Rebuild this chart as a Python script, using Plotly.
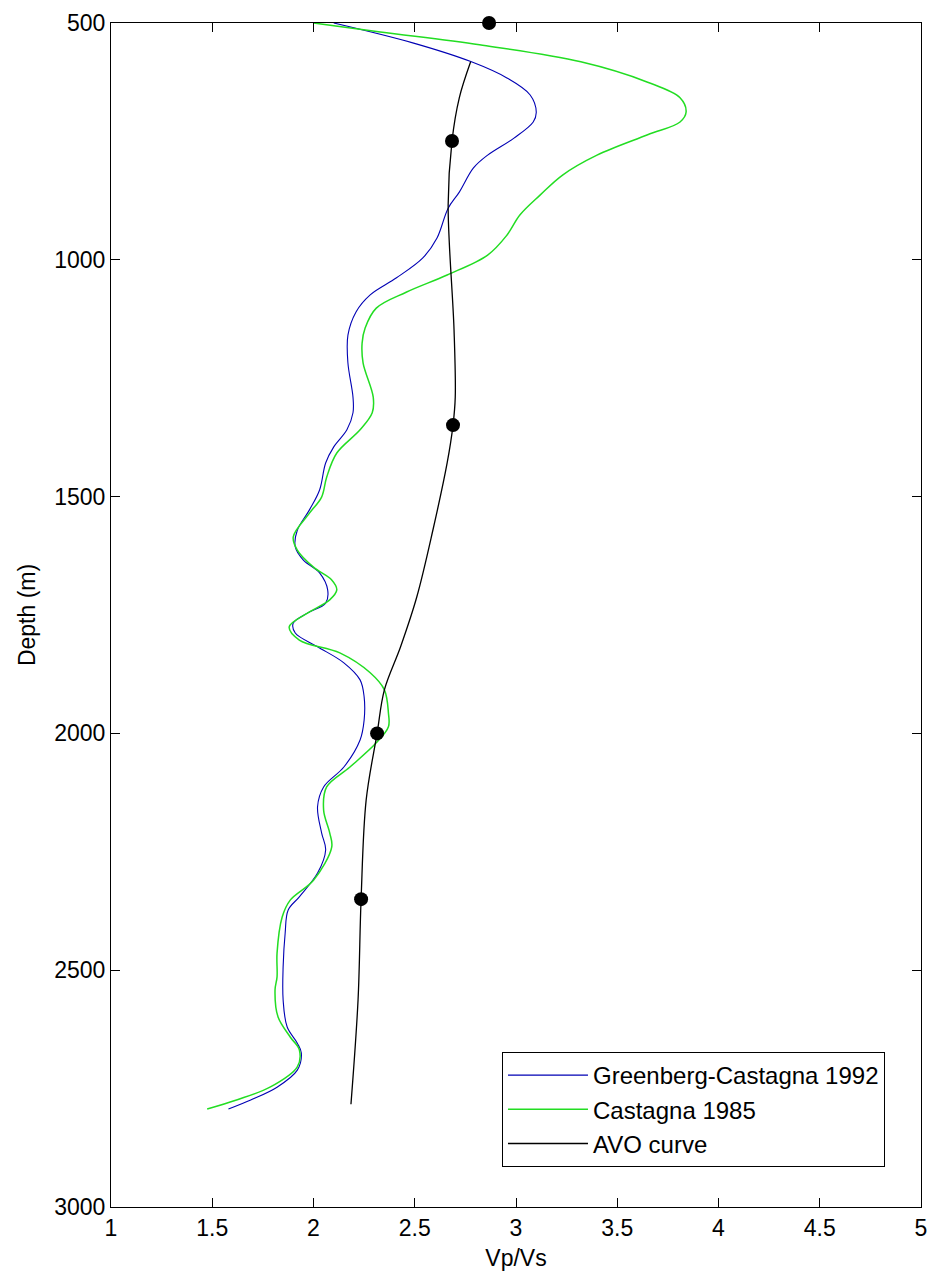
import plotly.graph_objects as go

# Greenberg-Castagna 1992
gc_depth = [500, 542, 582, 616, 652, 688, 709, 743, 779, 806, 857, 891, 954, 996, 1038, 1074,
            1110, 1159, 1218, 1290, 1323, 1359, 1395, 1429, 1486, 1528, 1571, 1606, 1634, 1661,
            1697, 1725, 1746, 1767, 1788, 1817, 1851, 1887, 1923, 1972, 2014, 2071, 2113, 2155,
            2210, 2246, 2295, 2345, 2373, 2422, 2493, 2563, 2620, 2654, 2675, 2711, 2747, 2774, 2793]
gc_vpvs = [2.10, 2.49, 2.78, 2.955, 3.07, 3.10, 3.085, 2.99, 2.86, 2.79, 2.72, 2.665, 2.61, 2.54,
           2.41, 2.28, 2.21, 2.17, 2.17, 2.195, 2.195, 2.165, 2.10, 2.06, 2.03, 1.98, 1.92, 1.91,
           1.95, 2.03, 2.07, 2.06, 1.97, 1.90, 1.91, 2.02, 2.15, 2.23, 2.25, 2.25, 2.23, 2.15, 2.05,
           2.02, 2.04, 2.06, 2.02, 1.93, 1.875, 1.86, 1.85, 1.85, 1.87, 1.92, 1.94, 1.92, 1.82, 1.69, 1.58]

# Castagna 1985
c_depth = [500, 519, 546, 582, 625, 658, 688, 709, 736, 779, 821, 863, 905, 948, 990, 1032, 1068,
           1102, 1144, 1176, 1218, 1290, 1323, 1359, 1408, 1459, 1501, 1535, 1585, 1613, 1649, 1676,
           1697, 1718, 1746, 1775, 1803, 1830, 1872, 1908, 1957, 1986, 2020, 2071, 2113, 2162, 2210,
           2240, 2310, 2352, 2388, 2464, 2514, 2542, 2599, 2641, 2668, 2704, 2747, 2774, 2793]
c_vpvs = [2.00, 2.33, 2.82, 3.32, 3.65, 3.81, 3.84, 3.81, 3.65, 3.40, 3.23, 3.12, 3.02, 2.955, 2.86,
          2.66, 2.46, 2.31, 2.255, 2.24, 2.245, 2.295, 2.29, 2.23, 2.115, 2.065, 2.04, 1.98, 1.90,
          1.92, 2.00, 2.09, 2.115, 2.08, 1.97, 1.88, 1.93, 2.13, 2.28, 2.35, 2.37, 2.37, 2.31, 2.18,
          2.065, 2.05, 2.08, 2.09, 2.00, 1.885, 1.845, 1.82, 1.82, 1.81, 1.825, 1.885, 1.93, 1.92,
          1.785, 1.62, 1.475]

# AVO curve
avo_depth = [582, 658, 749, 884, 1148, 1290, 1349, 1429, 1570, 1712, 1817, 1908, 2000, 2141, 2350, 2563, 2783]
avo_vpvs = [2.776, 2.72, 2.684, 2.665, 2.694, 2.70, 2.689, 2.66, 2.59, 2.51, 2.43, 2.35, 2.314, 2.26,
            2.235, 2.22, 2.185]

# AVO points
pt_depth = [500, 749, 1349, 2000, 2350]
pt_vpvs = [2.867, 2.684, 2.689, 2.314, 2.235]

x_ticks = [1, 1.5, 2, 2.5, 3, 3.5, 4, 4.5, 5]
x_ticklabels = ["1", "1.5", "2", "2.5", "3", "3.5", "4", "4.5", "5"]
y_ticks = [500, 1000, 1500, 2000, 2500, 3000]

FONT = "Liberation Sans, Arial, sans-serif"

fig = go.Figure()
fig.add_trace(go.Scatter(x=gc_vpvs, y=gc_depth, mode="lines", name="Greenberg-Castagna 1992",
                         line=dict(color="#0000b4", width=1.1, shape="spline", smoothing=1.0)))
fig.add_trace(go.Scatter(x=c_vpvs, y=c_depth, mode="lines", name="Castagna 1985",
                         line=dict(color="#22dd22", width=1.5, shape="spline", smoothing=1.0)))
fig.add_trace(go.Scatter(x=avo_vpvs, y=avo_depth, mode="lines", name="AVO curve",
                         line=dict(color="black", width=1.3, shape="spline", smoothing=1.0)))
fig.add_trace(go.Scatter(x=pt_vpvs, y=pt_depth, mode="markers", showlegend=False, cliponaxis=False,
                         marker=dict(color="black", size=14, line=dict(width=0))))

fig.update_layout(
    width=931, height=1276,
    margin=dict(l=111, r=10, t=23, b=69, autoexpand=False),
    paper_bgcolor="white", plot_bgcolor="white",
    font=dict(family=FONT, size=23, color="black"),
    legend=dict(x=0.4827, y=0.1309, xanchor="left", yanchor="top",
                bordercolor="black", borderwidth=1, bgcolor="white", itemwidth=80,
                font=dict(family=FONT, size=24, color="black")),
)
fig.update_xaxes(range=[1, 5], tickvals=x_ticks, ticktext=x_ticklabels, automargin=False,
                 ticks="inside", ticklen=9, tickwidth=1, tickcolor="black",
                 showline=True, linecolor="black", linewidth=1.2, mirror="ticks",
                 showgrid=False, zeroline=False,
                 title=dict(text="Vp/Vs", standoff=10, font=dict(size=23)))
fig.update_yaxes(range=[3000, 500], tickvals=y_ticks, automargin=False,
                 ticks="inside", ticklen=9, tickwidth=1, tickcolor="black",
                 showline=True, linecolor="black", linewidth=1.2, mirror="ticks",
                 showgrid=False, zeroline=False,
                 title=dict(text="Depth (m)", standoff=12, font=dict(size=23)))

fig.write_html("out.html", config={"displayModeBar": False},
               post_script="document.body.style.margin='0';document.body.style.overflow='hidden';")
